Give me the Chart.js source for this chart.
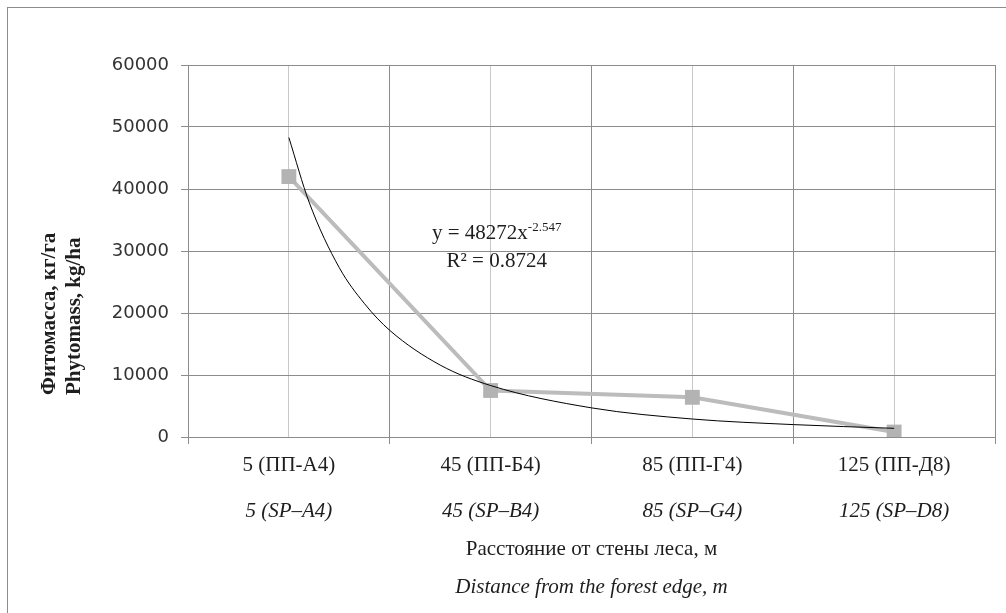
<!DOCTYPE html>
<html>
<head>
<meta charset="utf-8">
<script src="https://cdn.jsdelivr.net/npm/chart.js@4.4.1/dist/chart.umd.min.js"></script>
<style>
  html, body { margin: 0; padding: 0; background: #fff; overflow: hidden; }
  .chart-frame {
    position: absolute; left: 7px; top: 7px; width: 1100px; height: 700px;
    border-left: 1px solid #8c8c8c; border-top: 1px solid #8c8c8c;
  }
  .chart-box { position: absolute; left: 0; top: 0; width: 1006px; height: 613px; }
</style>
</head>
<body>
<div class="chart-frame"></div>
<div class="chart-box"><canvas id="phytomassChart"></canvas></div>
<script>
  // categories (two languages)
  const categoriesRu = ['5 (ПП-А4)', '45 (ПП-Б4)', '85 (ПП-Г4)', '125 (ПП-Д8)'];
  const categoriesEn = ['5 (SP–A4)', '45 (SP–B4)', '85 (SP–G4)', '125 (SP–D8)'];

  // phytomass, kg/ha
  const phytomass = [42000, 7500, 6400, 800];

  // power trendline (category index -> value)
  const trendX = [1, 1.1, 1.25, 1.375, 1.5, 1.75, 2, 2.5, 3, 3.5, 4];
  const trendY = [48300, 37900, 27300, 21500, 17200, 11600, 8300, 4700, 2900, 2000, 1400];
  const trendEquation = 'y = 48272x';
  const trendPower = '-2.547';
  const trendR2 = 'R² = 0.8724';

  const yTickLabels = ['0', '10000', '20000', '30000', '40000', '50000', '60000'];

  // styles
  const gridDark = '#8c8c8c';
  const gridLight = '#c8c8c8';
  const serif = '"Liberation Serif", "Times New Roman", serif';
  const textColor = '#1e1e1e';
  const nb = '\u00a0';

  // equation label
  const eqPlugin = {
    id: 'eqLabel',
    afterDatasetsDraw(chart) {
      const { ctx, scales } = chart;
      const cx = scales.x.getPixelForValue(2.03);
      const y1 = scales.y.getPixelForValue(31900);
      const y2 = scales.y.getPixelForValue(27500);
      ctx.save();
      ctx.fillStyle = textColor;
      ctx.textBaseline = 'alphabetic';
      ctx.font = '21px ' + serif;
      const w1 = ctx.measureText(trendEquation).width;
      ctx.font = '13px ' + serif;
      const w2 = ctx.measureText(trendPower).width;
      let x0 = cx - (w1 + w2) / 2;
      ctx.font = '21px ' + serif;
      ctx.textAlign = 'left';
      ctx.fillText(trendEquation, x0, y1);
      ctx.font = '13px ' + serif;
      ctx.fillText(trendPower, x0 + w1, y1 - 8);
      ctx.font = '21px ' + serif;
      ctx.textAlign = 'center';
      ctx.fillText(trendR2, cx, y2);
      ctx.restore();
    }
  };

  const ctx = document.getElementById('phytomassChart').getContext('2d');
  new Chart(ctx, {
    type: 'line',
    data: {
      datasets: [
        {
          label: 'Фитомасса',
          data: phytomass.map((v, i) => ({ x: i + 1, y: v })),
          borderColor: '#bcbcbc',
          backgroundColor: '#b3b3b3',
          pointBackgroundColor: '#b3b3b3',
          pointBorderColor: '#b3b3b3',
          borderWidth: 4,
          pointStyle: 'rect',
          pointRadius: 10.5,
          pointBorderWidth: 0,
          tension: 0,
          order: 1
        },
        {
          label: 'Тренд',
          data: trendX.map((x, i) => ({ x: x, y: trendY[i] })),
          borderColor: '#000',
          borderWidth: 1,
          pointRadius: 0,
          cubicInterpolationMode: 'monotone',
          order: 0
        }
      ]
    },
    options: {
      responsive: true,
      maintainAspectRatio: false,
      devicePixelRatio: 1,
      animation: false,
      layout: { padding: { top: 65, right: 10, bottom: 0, left: 0 } },
      plugins: { legend: { display: false }, tooltip: { enabled: false } },
      scales: {
        x: {
          type: 'linear', position: 'bottom', weight: 0,
          min: 0.5, max: 4.5,
          afterFit: s => { s.height = 51; },
          grid: {
            color: c => Number.isInteger(c.tick.value) ? gridLight : gridDark,
            tickColor: c => Number.isInteger(c.tick.value) ? 'rgba(0,0,0,0)' : gridDark,
            tickLength: 7,
            lineWidth: 1
          },
          border: { color: gridDark },
          ticks: {
            stepSize: 0.5, autoSkip: false, maxRotation: 0, padding: 9,
            color: textColor,
            font: { family: serif, size: 21 },
            callback: v => Number.isInteger(v) ? categoriesRu[v - 1] : ''
          }
        },
        x2: {
          type: 'linear', position: 'bottom', weight: 1,
          min: 0.5, max: 4.5,
          afterFit: s => { s.height = 78; },
          grid: { display: false, drawTicks: false },
          border: { display: false },
          ticks: {
            stepSize: 0.5, autoSkip: false, maxRotation: 0, padding: 11,
            color: textColor,
            font: { family: serif, size: 21, style: 'italic' },
            callback: v => Number.isInteger(v) ? categoriesEn[v - 1] : ''
          },
          title: {
            display: true,
            text: 'Расстояние от стены леса, м',
            color: textColor,
            font: { family: serif, size: 21 },
            padding: { top: 0, bottom: 4 }
          }
        },
        x3: {
          type: 'linear', position: 'bottom', weight: 2,
          min: 0.5, max: 4.5,
          afterFit: s => { s.height = 47; },
          grid: { display: false, drawTicks: false },
          border: { display: false },
          ticks: { display: false },
          title: {
            display: true,
            text: 'Distance from the forest edge, m',
            color: textColor,
            font: { family: serif, size: 21, style: 'italic' },
            padding: { top: 0, bottom: 13 }
          }
        },
        y: {
          min: 0, max: 60000,
          afterFit: s => { s.width = 188; },
          grid: { color: gridDark, tickColor: gridDark, tickLength: 7 },
          border: { color: gridDark },
          ticks: {
            stepSize: 10000, padding: 12,
            color: '#333',
            font: { family: '"DejaVu Sans", sans-serif', size: 18 },
            callback: (v, i) => yTickLabels[i]
          },
          title: {
            display: true,
            align: 'start',
            text: [nb.repeat(8) + 'Фитомасса, кг/га', nb.repeat(8) + 'Phytomass, kg/ha'],
            color: textColor,
            font: { family: serif, size: 21, weight: 'bold', lineHeight: 1.19 },
            padding: { top: 37, bottom: 0 }
          }
        }
      }
    },
    plugins: [eqPlugin]
  });
</script>
</body>
</html>
